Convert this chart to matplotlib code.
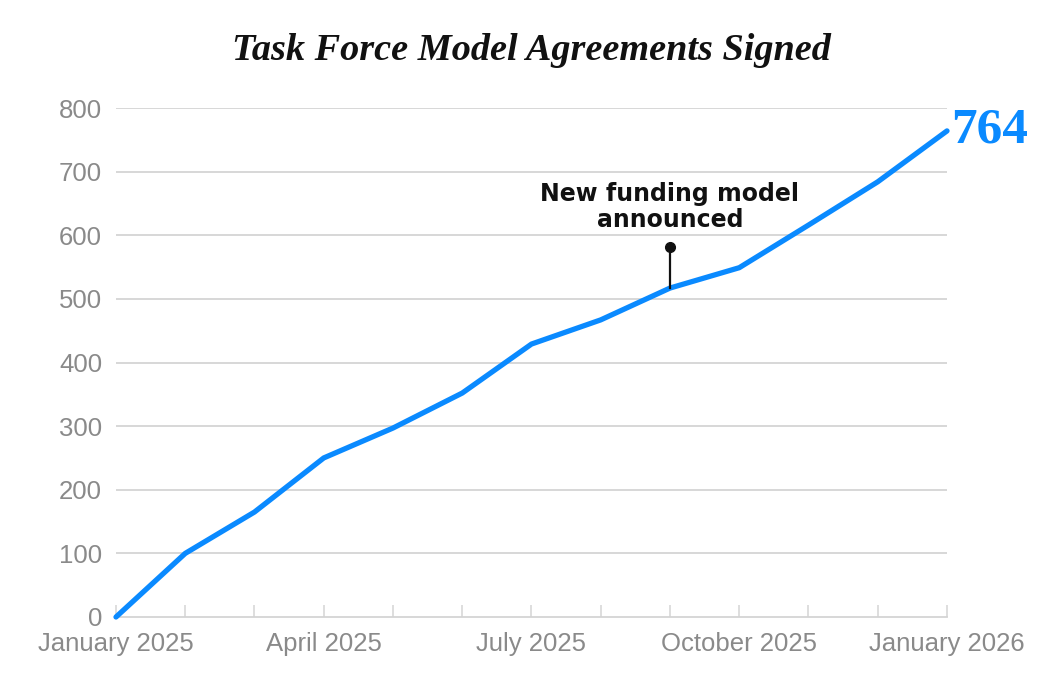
import matplotlib
matplotlib.use("Agg")
import matplotlib.pyplot as plt

# Données
months = ["January 2025", "February 2025", "March 2025", "April 2025", "May 2025",
          "June 2025", "July 2025", "August 2025", "September 2025", "October 2025",
          "November 2025", "December 2025", "January 2026"]
agreements = [0, 100, 165, 250, 297, 352, 429, 467, 517, 549, 616, 684, 764]
label_months = ["January 2025", "April 2025", "July 2025", "October 2025", "January 2026"]
y_ticks = [0, 100, 200, 300, 400, 500, 600, 700, 800]

annot_month = "September 2025"
annot_text = "New funding model\nannounced"

x = list(range(len(months)))  # mois espacés régulièrement
blue = "#0a8aff"
grey_txt = "#8a8a8a"
grid_col = "#d4d4d4"

fig = plt.figure(figsize=(10.63, 7.0), dpi=100)
ax = fig.add_axes([116 / 1063, 1 - 617 / 700, (947 - 116) / 1063, (617 - 108) / 700])

# Grille horizontale
for y in y_ticks[1:]:
    ax.axhline(y, color=grid_col, lw=1.3, zorder=1)

ax.plot(x, agreements, color=blue, lw=3.8, solid_capstyle="round",
        solid_joinstyle="round", zorder=3, clip_on=False)

ax.set_xlim(x[0], x[-1])
ax.set_ylim(0, 800)

for s in ["top", "right", "left"]:
    ax.spines[s].set_visible(False)
ax.spines["bottom"].set_color(grid_col)
ax.spines["bottom"].set_linewidth(1.3)

ax.set_yticks(y_ticks)
ax.set_yticklabels([str(v) for v in y_ticks], fontsize=18.5, color=grey_txt,
                   family="Liberation Sans")
ax.tick_params(axis="y", length=0, pad=10)

ax.set_xticks(x)
ax.set_xticklabels([m if m in label_months else "" for m in months],
                   fontsize=18.5, color=grey_txt, family="Liberation Sans")
ax.tick_params(axis="x", direction="in", length=9, width=1.1, color=grid_col, pad=11)
for t in ax.get_xticklines():
    t.set_clip_on(False)

# Annotation
ai = months.index(annot_month)
av = agreements[ai]
ax.plot([ai, ai], [av, 582], color="#111111", lw=1.6, zorder=4)
ax.plot([ai], [582], "o", color="#111111", ms=7, zorder=5)
ax.text(ai, 605, annot_text, ha="center", va="bottom", fontsize=17,
        fontweight="bold", color="#111111", family="DejaVu Sans", linespacing=1.12)

# Valeur finale
ax.annotate(f"{agreements[-1]}", (x[-1], agreements[-1]), xytext=(3, 0),
            textcoords="offset points", ha="left", va="center",
            fontsize=37, fontweight="bold", color=blue, family="Liberation Serif",
            annotation_clip=False)

fig.text(0.5, 1 - 50 / 700, "Task Force Model Agreements Signed", ha="center",
         va="center", fontsize=27.5, fontstyle="italic", fontweight="bold",
         family="Liberation Serif", color="#111111")

fig.savefig("out.png", dpi=100, facecolor="white")
